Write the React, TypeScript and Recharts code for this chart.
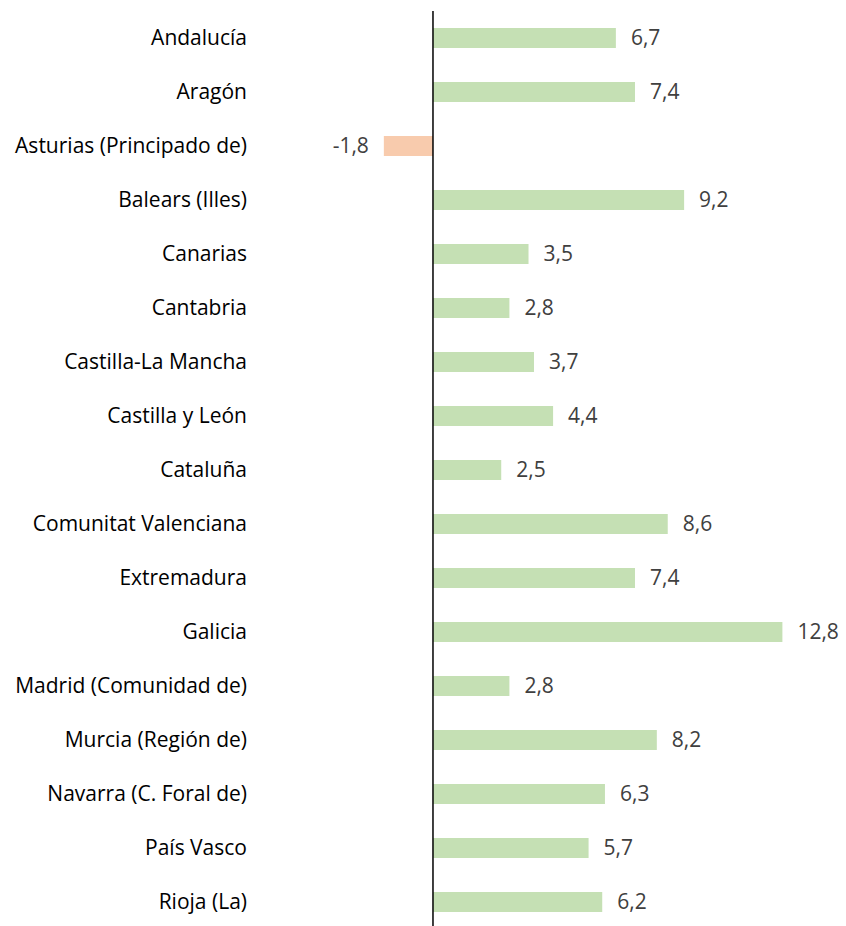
import React from 'react'
import { BarChart, Bar, XAxis, YAxis, Cell, LabelList, ReferenceLine } from 'recharts'

const regions = [
  'Andalucía',
  'Aragón',
  'Asturias (Principado de)',
  'Balears (Illes)',
  'Canarias',
  'Cantabria',
  'Castilla-La Mancha',
  'Castilla y León',
  'Cataluña',
  'Comunitat Valenciana',
  'Extremadura',
  'Galicia',
  'Madrid (Comunidad de)',
  'Murcia (Región de)',
  'Navarra (C. Foral de)',
  'País Vasco',
  'Rioja (La)',
]

const values = [6.7, 7.4, -1.8, 9.2, 3.5, 2.8, 3.7, 4.4, 2.5, 8.6, 7.4, 12.8, 2.8, 8.2, 6.3, 5.7, 6.2]

const POS_COLOR = '#C5E0B4'
const NEG_COLOR = '#F8CBAD'
const FONT = '"Open Sans", sans-serif'

const data = regions.map((name, i) => ({ name, value: values[i] }))

const fmt = (v: number) => v.toFixed(1).replace('.', ',')

export default function App() {
  return (
    <div style={{ position: 'absolute', top: 0, left: 0, width: 846, height: 926, overflow: 'hidden', background: '#fff' }}>
      <BarChart
        width={846}
        height={930}
        data={data}
        layout="vertical"
        margin={{ top: 11, right: 0, bottom: 1, left: 0 }}
        barCategoryGap={0}
      >
        <XAxis type="number" domain={[-6.52, 15.13]} hide />
        <YAxis
          type="category"
          dataKey="name"
          width={255}
          axisLine={false}
          tickLine={false}
          tickMargin={2}
          interval={0}
          tick={{ fill: '#000', fontSize: 21, fontFamily: FONT }}
        />
        <Bar dataKey="value" barSize={20} isAnimationActive={false}>
          {data.map((d, i) => (
            <Cell key={`c-${i}`} fill={d.value < 0 ? NEG_COLOR : POS_COLOR} />
          ))}
          <LabelList
            dataKey="value"
            position="right"
            offset={15}
            formatter={(v: number) => fmt(v)}
            style={{ fill: '#404040', fontSize: 21, fontFamily: FONT }}
          />
        </Bar>
        <ReferenceLine x={0} stroke="#000" strokeWidth={1.5} />
      </BarChart>
    </div>
  )
}
